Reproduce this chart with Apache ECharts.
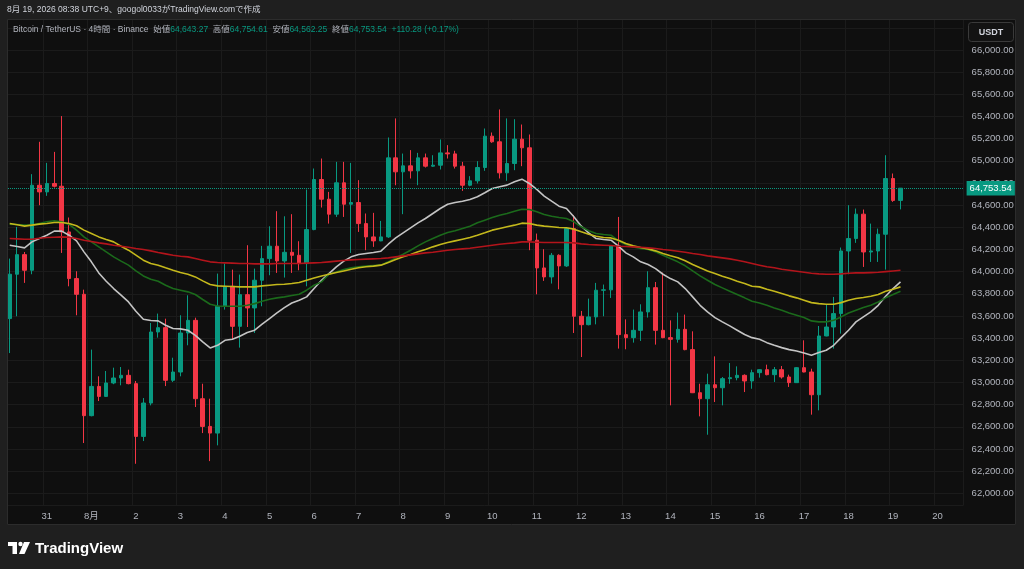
<!DOCTYPE html>
<html>
<head>
<meta charset="utf-8">
<script src="https://cdn.jsdelivr.net/npm/echarts@6/dist/echarts.min.js"></script>
<style>
html,body{margin:0;padding:0;background:#1f1f1f;}
#c{width:1024px;height:569px;}
</style>
</head>
<body>
<div id="c"></div>
<script>
// ---- data (4h candles from 2026-07-30 05:00 JST) ----
const opens = [63577,63977,64154,64013,64780,64720,64796,64771,64359,63938,63796,62701,62965,62875,62996,63041,63065,62990,62514,62815,
63456,63495,63020,63095,63447,63561,62854,62604,62544,63688,63868,63507,63793,63673,63923,64118,64230,64097,64175,64148,
64073,64380,64832,64654,64519,64802,64609,64624,64434,64314,64278,64314,65027,64901,64955,64910,65027,64952,64961,65072,
65063,64952,64780,64820,64940,65223,65172,64892,64976,65196,65118,64284,64034,63953,64148,64052,64389,63598,63522,63592,
63833,63836,64233,63432,63405,63471,63637,63856,63471,63405,63390,63480,63297,62908,62854,62980,62953,63035,63044,63065,
63014,63089,63116,63071,63116,63050,62999,63134,63095,62890,63420,63501,63622,64187,64299,64519,64178,64187,64338,64841,
64643.27];
const closes = [63977,64154,64013,64780,64720,64796,64771,64359,63938,63796,62701,62965,62875,62996,63041,63065,62990,62514,62815,63456,
63495,63020,63095,63447,63561,62854,62604,62544,63688,63868,63507,63793,63673,63923,64118,64230,64097,64175,64148,64073,
64380,64832,64654,64519,64802,64609,64624,64434,64314,64278,64314,65027,64901,64955,64910,65027,64952,64961,65072,65063,
64952,64780,64820,64940,65223,65172,64892,64976,65196,65118,64284,64034,63953,64148,64052,64389,63598,63522,63592,63833,
63836,64233,63432,63405,63471,63637,63856,63471,63405,63390,63480,63297,62908,62854,62980,62953,63035,63044,63065,63014,
63089,63116,63071,63116,63050,62999,63134,63095,62890,63420,63501,63622,64187,64299,64519,64178,64187,64338,64841,64643.26,
64753.54];
const lows = [63266,63598,63899,63977,64600,64684,64759,64169,63868,63607,62454,62695,62833,62870,62985,62975,62984,62267,62472,62794,
63405,62968,63005,63056,63336,62779,62544,62291,62433,63658,63387,63315,63501,63447,63688,63968,63989,63947,63989,64013,
63868,64374,64579,64434,64494,64494,64169,64359,64194,64224,64275,64305,64780,64519,64841,64780,64940,64946,64922,65021,
64931,64729,64771,64796,64910,65163,64841,64820,64916,64952,64194,63796,63917,63893,63841,64043,63447,63230,63516,63525,
63598,63763,63306,63300,63360,63375,63586,63342,63400,62794,63360,63291,62905,62695,62529,62824,62794,62989,63020,62914,
62944,63044,63065,63005,63035,62960,62996,63092,62710,62749,63417,63306,63441,63977,64260,64043,64088,64088,64019,64630,
64562.25];
const highs = [64118,64404,64178,64880,65172,64982,65081,65404,64489,64004,63838,63297,63056,63104,63134,63140,63116,63014,62860,63537,
63622,63576,63224,63607,63787,63585,62989,62854,63983,64073,64019,63974,64239,64028,64233,64410,64546,64500,64519,64275,
64741,64931,65021,64720,64991,64991,64982,64826,64525,64531,64458,65211,65383,65066,65097,65072,65066,65051,65193,65142,
65091,64991,64862,64997,65292,65256,65464,65383,65376,65328,65238,64344,64203,64169,64157,64398,64510,63646,63757,63899,
63884,64240,64494,63570,63658,63706,64004,63907,63992,63561,63631,63613,63462,62989,63080,63236,63050,63176,63146,63074,
63116,63119,63161,63140,63149,63071,63140,63381,63125,63510,63706,63772,64218,64600,64570,64561,64434,64389,65051,64886,
64754.61];
const maWhite = [64239,64227,64215,64269,64299,64329,64366,64366,64329,64278,64179,64089,63989,63914,63848,63788,63727,63643,63571,63559,
63556,63517,63487,63484,63472,63426,63366,63312,63336,63381,63390,63417,63451,63472,63526,63577,63628,63676,63718,63743,
63773,63848,63923,63983,64044,64095,64134,64155,64164,64173,64185,64248,64305,64351,64396,64441,64480,64525,64570,64609,
64624,64636,64652,64676,64712,64751,64766,64781,64811,64835,64796,64742,64682,64636,64591,64570,64495,64411,64351,64299,
64290,64284,64230,64170,64134,64089,64065,64028,63977,63938,63908,63848,63773,63697,63637,63586,63547,63511,63472,63433,
63405,63390,63360,63336,63315,63297,63285,63267,63246,63270,63291,63336,63405,63472,63547,63592,63637,63697,63779,63848,63908];
const maGreen = [64429,64426,64420,64420,64435,64450,64459,64450,64426,64375,64314,64269,64224,64179,64134,64095,64059,64007,63962,63932,
63914,63878,63848,63833,63818,63794,63749,63706,63691,63688,63688,63688,63697,63712,63733,63752,63764,63773,63785,63797,
63833,63878,63908,63977,63998,64019,64035,64044,64050,64056,64059,64089,64125,64158,64194,64233,64269,64299,64329,64354,
64369,64390,64411,64441,64465,64489,64510,64525,64546,64564,64561,64540,64516,64501,64489,64480,64450,64405,64369,64345,
64335,64329,64278,64245,64224,64209,64200,64179,64149,64119,64089,64053,64007,63962,63923,63884,63854,63824,63794,63764,
63733,63718,63697,63673,63652,63628,63607,63586,63556,63547,63547,63562,63592,63628,63652,63676,63697,63727,63764,63794,63824];
const maYellow = [64435,64423,64411,64420,64429,64435,64444,64444,64435,64414,64375,64345,64314,64290,64269,64230,64194,64149,64104,64074,
64059,64035,64013,63992,63977,63953,63917,63884,63872,63869,63866,63863,63863,63863,63872,63878,63884,63887,63893,63902,
63923,63944,63962,63977,63992,64007,64022,64035,64044,64050,64059,64083,64110,64134,64155,64179,64200,64224,64245,64263,
64278,64293,64308,64329,64351,64375,64390,64405,64420,64438,64435,64420,64411,64405,64399,64396,64384,64360,64338,64320,
64308,64305,64284,64254,64233,64218,64206,64188,64164,64143,64125,64098,64065,64035,64007,63983,63959,63938,63914,63893,
63869,63863,63842,63824,63803,63782,63764,63743,63721,63712,63706,63706,63721,63743,63758,63767,63779,63794,63824,63842,63863];
const maRed = [64299,64296,64293,64293,64302,64308,64311,64314,64311,64299,64284,64272,64260,64251,64239,64230,64221,64209,64200,64188,
64173,64161,64149,64140,64134,64119,64104,64089,64083,64080,64077,64074,64074,64071,64071,64071,64074,64074,64074,64074,
64077,64080,64083,64089,64095,64101,64107,64110,64113,64116,64119,64125,64134,64143,64152,64161,64170,64176,64185,64194,
64200,64206,64212,64221,64230,64239,64248,64254,64260,64269,64269,64266,64263,64263,64263,64263,64260,64251,64245,64242,
64239,64236,64230,64227,64224,64221,64215,64209,64200,64194,64185,64176,64164,64155,64143,64134,64125,64116,64104,64089,
64074,64059,64044,64035,64022,64013,64004,63995,63986,63980,63977,63977,63980,63986,63989,63989,63992,63995,64001,64007,64013];

// categories: 4h steps, including empty slots to the right of the last candle
const slotCount = 129;
const categories = [], monthOf = [], dayOf = [], hourOf = [];
(function(){
  let m = 7, d = 30, h = 5;
  for (let i = 0; i < slotCount; i++) {
    categories.push(m + '/' + d + ' ' + String(h).padStart(2,'0') + ':00');
    monthOf.push(m); dayOf.push(d); hourOf.push(h);
    h += 4;
    if (h >= 24) { h -= 24; d++; if (m === 7 && d > 31) { m = 8; d = 1; } }
  }
})();

const fmt = v => v.toLocaleString('en-US', {minimumFractionDigits: 2, maximumFractionDigits: 2});
const last = opens.length - 1;
const lastPrice = closes[last];
const change = closes[last] - closes[last - 1];
const changePct = change / closes[last - 1] * 100;

const candleData = opens.map((o, i) => [o, closes[i], lows[i], highs[i]]);
const FONT = "'Liberation Sans', 'Noto Sans CJK JP', sans-serif";
const isDay = (idx) => hourOf[idx] === 1;

const chart = echarts.init(document.getElementById('c'), null, {renderer: 'canvas'});
const maLine = (name, arr, color) => ({
  name, type: 'line', data: arr, showSymbol: false, symbol: 'none', smooth: false,
  lineStyle: {color, width: 1.6}, silent: true, z: 3, animation: false
});

chart.setOption({
  backgroundColor: '#0f0f0f',
  animation: false,
  grid: {left: 6, right: 60.4, top: 19, bottom: 64},
  xAxis: {
    type: 'category', data: categories, boundaryGap: true,
    axisLine: {show: false}, axisTick: {show: false},
    axisLabel: {
      interval: (idx) => isDay(idx),
      formatter: (v, idx) => (dayOf[idx] === 1 ? monthOf[idx] + '月' : String(dayOf[idx])),
      color: '#b2b5be', fontSize: 9.5, fontFamily: FONT, margin: 7
    },
    splitLine: {show: true, interval: (idx) => isDay(idx), lineStyle: {color: '#1b1b1b', width: 1}}
  },
  yAxis: {
    type: 'value', position: 'right', min: 61895, max: 66280, splitNumber: 22, scale: true,
    axisLine: {show: false}, axisTick: {show: false},
    axisLabel: {
      color: '#b2b5be', fontSize: 9.5, fontFamily: FONT, margin: 8, align: 'left',
      formatter: (v) => (Math.abs(v % 200) < 1e-6 && v >= 62000 && v <= 66000) ? fmt(v) : ''
    },
    splitLine: {show: true, lineStyle: {color: '#1b1b1b', width: 1}}
  },
  series: [
    {
      type: 'candlestick', data: candleData, barWidth: 4, z: 2,
      itemStyle: {color: '#089981', color0: '#f23645', borderColor: '#089981', borderColor0: '#f23645', borderWidth: 1},
      markLine: {
        silent: true, symbol: ['none', 'none'], animation: false,
        lineStyle: {type: 'dotted', color: '#089981', width: 1},
        label: {
          show: true, position: 'end', distance: 3, formatter: () => fmt(lastPrice),
          backgroundColor: '#089981', color: '#ffffff', fontSize: 9.5, fontFamily: FONT, padding: [3, 3, 2, 3]
        },
        data: [{yAxis: lastPrice}]
      }
    },
    maLine('white', maWhite, '#c4c4c4'),
    maLine('green', maGreen, '#1b6a1b'),
    maLine('yellow', maYellow, '#c4b81c'),
    maLine('red', maRed, '#b3141b')
  ],
  graphic: [
    {type: 'rect', z: 100, silent: true, shape: {x: 0, y: 0, width: 1024, height: 19}, style: {fill: '#1f1f1f'}},
    {type: 'rect', z: 100, silent: true, shape: {x: 0, y: 525, width: 1024, height: 44}, style: {fill: '#1f1f1f'}},
    {type: 'rect', z: 100, silent: true, shape: {x: 0, y: 0, width: 7, height: 569}, style: {fill: '#1f1f1f'}},
    {type: 'rect', z: 100, silent: true, shape: {x: 1016, y: 0, width: 8, height: 569}, style: {fill: '#1f1f1f'}},
    {type: 'rect', z: 101, silent: true, shape: {x: 7.5, y: 19.5, width: 1008, height: 505}, style: {fill: null, stroke: '#2c2c2c', lineWidth: 1}},
    {type: 'text', z: 102, silent: true, x: 7, y: 9.5,
      style: {text: '8月 19, 2026 08:38 UTC+9、googol0033がTradingView.comで作成', fill: '#d1d4dc', font: '8.5px ' + FONT, textVerticalAlign: 'middle'}},
    {type: 'text', z: 102, silent: true, x: 13, y: 29.5,
      style: {
        text: '{t|Bitcoin / TetherUS · 4時間 · Binance}  {t|始値}{v|' + fmt(opens[last]) + '}  {t|高値}{v|' + fmt(highs[last]) +
              '}  {t|安値}{v|' + fmt(lows[last]) + '}  {t|終値}{v|' + fmt(closes[last]) + '}  {v|' +
              (change >= 0 ? '+' : '') + fmt(change) + ' (' + (change >= 0 ? '+' : '') + changePct.toFixed(2) + '%)}',
        font: '8.5px ' + FONT, textVerticalAlign: 'middle',
        rich: {t: {fill: '#b2b5be', fontSize: 8.5, fontFamily: FONT}, v: {fill: '#089981', fontSize: 8.5, fontFamily: FONT}}
      }},
    {type: 'rect', z: 102, silent: true, shape: {x: 968.5, y: 22.5, width: 45, height: 19, r: 3}, style: {fill: '#131313', stroke: '#3a3a3a', lineWidth: 1}},
    {type: 'text', z: 103, silent: true, x: 991, y: 32.5,
      style: {text: 'USDT', fill: '#d1d4dc', font: 'bold 9px ' + FONT, textAlign: 'center', textVerticalAlign: 'middle'}},
    // TradingView logo
    {type: 'rect', z: 102, silent: true, shape: {x: 8, y: 542, width: 9, height: 4}, style: {fill: '#ffffff'}},
    {type: 'rect', z: 102, silent: true, shape: {x: 12.5, y: 542, width: 4.5, height: 12}, style: {fill: '#ffffff'}},
    {type: 'circle', z: 102, silent: true, shape: {cx: 20.5, cy: 544, r: 2.2}, style: {fill: '#ffffff'}},
    {type: 'polygon', z: 102, silent: true, shape: {points: [[24, 542], [30, 542], [24.5, 554], [19, 554]]}, style: {fill: '#ffffff'}},
    {type: 'text', z: 102, silent: true, x: 35, y: 548.5,
      style: {text: 'TradingView', fill: '#ffffff', font: 'bold 15px ' + FONT, textVerticalAlign: 'middle'}}
  ]
});
</script>
</body>
</html>
